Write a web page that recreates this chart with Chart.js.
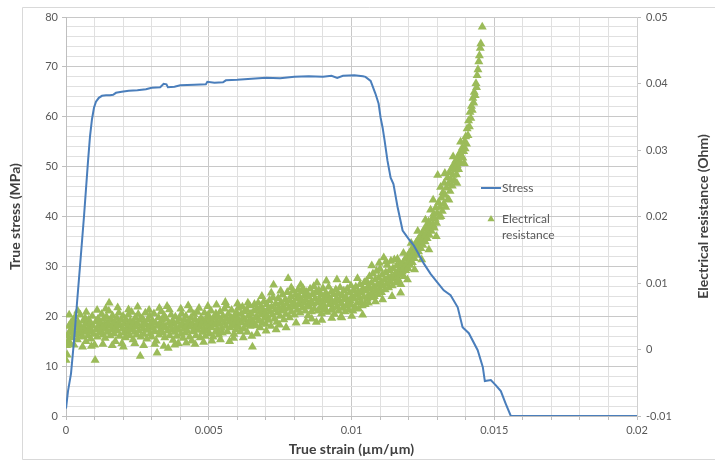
<!DOCTYPE html>
<html>
<head>
<meta charset="utf-8">
<script src="https://cdn.jsdelivr.net/npm/chart.js@4.4.1/dist/chart.umd.min.js"></script>
<style>
  html, body { margin: 0; padding: 0; background: #ffffff; }
  #wrap { width: 715px; height: 460px; position: relative; }
</style>
</head>
<body>
<div id="wrap"><canvas id="c" width="715" height="460"></canvas></div>
<script>
// ---------------- DATA ----------------
const xTitle = 'True strain (µm/µm)';
const yTitle = 'True stress (MPa)';
const y2Title = 'Electrical resistance (Ohm)';
const seriesNames = ['Stress', 'Electrical resistance'];

const xTickLabels = ['0', '0.005', '0.01', '0.015', '0.02'];
const yTickLabels = ['0', '10', '20', '30', '40', '50', '60', '70', '80'];
const y2TickLabels = ['-0.01', '0', '0.01', '0.02', '0.03', '0.04', '0.05'];

const stressStrain = [0, 0.00007, 0.000175, 0.00028, 0.00039, 0.00049, 0.00063, 0.00077, 0.00084, 0.00091,
  0.00098, 0.00105, 0.00115, 0.00126, 0.0014, 0.00154, 0.00165, 0.00175, 0.00195, 0.0022,
  0.0025, 0.0028, 0.003, 0.0033, 0.00342, 0.00352, 0.00357, 0.0038, 0.004, 0.0045,
  0.0049, 0.00495, 0.0052, 0.0055, 0.0056, 0.006, 0.0065, 0.007, 0.0075, 0.008,
  0.0085, 0.009, 0.0093, 0.0095, 0.0097, 0.0101, 0.0104, 0.01049, 0.01067, 0.01084,
  0.01095, 0.01102, 0.01109, 0.01116, 0.01126, 0.01137, 0.01147, 0.01161, 0.01179, 0.012,
  0.01218, 0.01235, 0.01253, 0.01277, 0.01295, 0.01323, 0.01347, 0.01372, 0.01389, 0.01411,
  0.01442, 0.0146, 0.01467, 0.01488, 0.01505, 0.01523, 0.0154, 0.01558, 0.02];
const stressValues = [1.5, 5, 8.5, 15, 23, 30, 40, 51, 56, 59.5,
  61.8, 63, 63.8, 64.2, 64.3, 64.3, 64.4, 64.8, 65, 65.2,
  65.3, 65.5, 65.8, 65.9, 66.6, 66.5, 65.9, 66, 66.3, 66.4,
  66.5, 67, 66.8, 66.9, 67.3, 67.4, 67.6, 67.8, 67.7, 68,
  68.1, 68, 68.2, 67.8, 68.2, 68.3, 68.1, 68.0, 67.2, 64.6,
  62.6, 59.8, 57.8, 55.2, 51.2, 47.8, 46.5, 42, 37.2, 35.5,
  34.2, 32.5, 30.6, 28.5, 27.2, 25.2, 24.2, 21.8, 17.8, 16.6,
  13.2, 9.8, 7, 7.2, 6.2, 5, 2.5, 0, 0];

// [true strain, electrical resistance (Ohm)] – main cloud
const resistancePoints = [
[0.00000,-0.0016],[0.00002,0.0006],[0.00004,-0.0008],[0.00006,0.0021],[0.00008,0.0013],[0.0001,0.0035],[0.00013,0.0027],[0.00015,0.0009],[0.00017,0.0040],[0.0002,0.0031],[0.00022,0.0018],[0.00025,0.0044],[0.00027,0.0025],[0.0003,0.0037],[0.00032,0.0049],[0.00035,0.0022],[0.00037,0.0033],[0.0004,0.0015],[0.00042,0.0041],[0.00045,0.0028],[0.00047,0.0036],[0.0005,0.0052],[0.00052,0.0024],[0.00055,0.0031],[0.00057,0.0019],[0.0006,0.0043],[0.00062,0.0034],[0.00065,0.0026],[0.00067,0.0047],[0.0007,0.0012],[0.00072,0.0038],[0.00075,0.0029],[0.00077,0.0021],[0.0008,0.0045],[0.00082,0.0033],[0.00085,0.0040],[0.00087,0.0016],[0.0009,0.0027],[0.00092,0.0050],[0.00095,0.0035],[0.00097,0.0023],[0.001,0.0007],[0.00102,-0.0016],[0.00105,0.0042],[0.00107,0.0030],[0.0011,0.0019],[0.00112,0.0046],[0.00115,0.0036],[0.00117,0.0025],
[0.0012,0.0041],[0.00122,0.0029],[0.00125,0.0053],[0.00127,0.0034],[0.0013,0.0022],[0.00132,0.0046],[0.00135,0.0038],[0.00137,0.0017],[0.0014,0.0031],[0.00142,0.0049],[0.00145,0.0026],[0.00147,0.0040],[0.0015,0.0058],[0.00151,0.0070],[0.00153,0.0035],[0.00155,0.0021],[0.00158,0.0044],[0.0016,0.0030],[0.00163,0.0051],[0.00165,0.0037],[0.00168,0.0024],[0.0017,0.0042],[0.00173,0.0012],[0.00175,0.0033],[0.00178,0.0047],[0.0018,0.0028],[0.00183,0.0039],[0.00185,0.0055],[0.00188,0.0020],[0.0019,0.0036],[0.00193,0.0044],[0.00196,0.0009],[0.00198,0.0031],[0.002,0.0050],[0.00203,0.0025],[0.00205,0.0039],[0.00208,0.0018],[0.0021,0.0045],[0.00213,0.0033],[0.00215,0.0027],[0.00218,0.0052],[0.0022,0.0038],[0.00223,0.0021],[0.00225,0.0043],[0.00228,0.0030],[0.0023,0.0056],[0.00233,0.0036],[0.00235,0.0015],[0.00238,0.0041],[0.0024,0.0026],[0.00243,0.0048],[0.00245,0.0034],[0.00248,0.0022],[0.0025,0.0039],[0.00253,0.0053],[0.00255,0.0028],[0.00258,0.0044],[0.0026,-0.0010],[0.00262,0.0019],[0.00265,0.0035],[0.00267,0.0047],[0.0027,0.0031],[0.00273,0.0023],[0.00275,0.0041],[0.00278,0.0055],[0.0028,0.0037],[0.00283,0.0016],[0.00285,0.0029],[0.00288,0.0045],[0.0029,0.0033],[0.00293,0.0050],[0.00295,0.0024],[0.00298,0.0038],[0.003,0.0019],[0.00303,0.0043],[0.00305,0.0032],[0.00308,0.0054],[0.0031,0.0027],[0.00313,0.0040],[0.00316,0.0013],[0.00319,-0.0005],[0.00321,0.0035],[0.00324,0.0048],[0.00326,0.0022],[0.00329,0.0039],[0.00331,0.0030],[0.00334,0.0057],[0.00336,0.0044],[0.00339,0.0025],[0.00341,0.0036],[0.00344,0.0051],[0.00346,0.0018],[0.00349,0.0033],[0.00351,0.0046],[0.00354,0.0065],[0.00356,0.0028],[0.00358,0.0002],[0.0036,0.0040],[0.00363,0.0021],[0.00365,0.0035],[0.00368,0.0052],[0.0037,0.0030],[0.00373,0.0043],[0.00375,0.0014],[0.00378,0.0038],[0.0038,0.0026],[0.00383,0.0049],[0.00385,0.0033],[0.00388,0.0020],[0.0039,0.0041],[0.00393,0.0009],[0.00395,0.0029],[0.00398,0.0046],[0.004,0.0035],[0.00403,0.0023],[0.00405,0.0054],[0.00408,0.0039],[0.0041,0.0017],[0.00413,0.0031],[0.00415,0.0044],[0.00418,0.0025],[0.0042,0.0050],[0.00423,0.0036],[0.00425,0.0028],[0.00428,0.0066],[0.0043,0.0042],[0.00433,0.0019],[0.00435,0.0034],[0.00438,0.0048],[0.0044,0.0013],[0.00443,0.0039],[0.00445,0.0027],[0.00448,0.0053],[0.0045,0.0032],[0.00453,0.0045],[0.00455,0.0021],[0.00458,0.0037],[0.0046,0.0056],[0.00463,0.0029],[0.00465,0.0042],[0.00468,0.0034],[0.0047,0.0018],[0.00473,0.0047],[0.00475,0.0038],[0.00478,0.0026],
[0.0048,0.0043],[0.00483,0.0031],[0.00485,0.0055],[0.00488,0.0020],[0.0049,0.0039],[0.00493,0.0047],[0.00495,0.0028],[0.00498,0.0052],[0.005,0.0036],[0.00503,0.0024],[0.00505,0.0044],[0.00508,0.0058],[0.0051,0.0033],[0.00513,0.0041],[0.00515,0.0019],[0.00518,0.0048],[0.0052,0.0037],[0.00523,0.0026],[0.00525,0.0054],[0.00528,0.0042],[0.0053,0.0030],[0.00533,0.0049],[0.00535,0.0022],[0.00538,0.0038],[0.0054,0.0057],[0.00543,0.0045],[0.00545,0.0032],[0.00548,0.0025],[0.0055,0.0050],[0.00553,0.0040],[0.00555,0.0061],[0.00558,0.0071],[0.0056,0.0035],[0.00563,0.0046],[0.00565,0.0027],[0.00568,0.0053],[0.0057,0.0041],[0.00573,0.0012],[0.00575,0.0033],[0.00578,0.0048],[0.0058,0.0059],[0.00583,0.0036],[0.00585,0.0044],[0.00588,0.0023],[0.0059,0.0051],[0.00593,0.0039],[0.00595,0.0030],[0.00598,0.0055],[0.006,0.0046],[0.00603,0.0062],[0.00605,0.0034],[0.00608,0.0042],[0.0061,0.0027],[0.00613,0.0053],[0.00615,0.0040],[0.00618,0.0064],[0.0062,0.0048],[0.00623,0.0031],[0.00625,0.0057],[0.00628,0.0044],[0.0063,0.0037],[0.00633,0.0060],[0.00635,0.0026],[0.00638,0.0050],[0.0064,0.0041],[0.00643,0.0066],[0.00645,0.0035],[0.00648,0.0054],[0.0065,0.0045],[0.00653,0.0004],[0.00655,0.0039],[0.00658,0.0058],[0.0066,0.0068],[0.00663,0.0047],
[0.00665,0.0036],[0.00668,0.0061],[0.0067,0.0049],[0.00673,0.0070],[0.00675,0.0043],[0.00678,0.0056],[0.0068,0.0033],[0.00683,0.0065],[0.00685,0.0052],[0.00688,0.0040],[0.0069,0.0059],[0.00693,0.0072],[0.00695,0.0047],[0.00698,0.0055],[0.007,0.0038],[0.00703,0.0068],[0.00705,0.0050],[0.00708,0.0061],[0.0071,0.0044],[0.00713,0.0074],[0.00715,0.0057],[0.00718,0.0035],[0.0072,0.0064],[0.00723,0.0052],[0.00725,0.0078],[0.00727,0.0097],[0.0073,0.0046],[0.00733,0.0060],[0.00735,0.0069],[0.00738,0.0041],[0.0074,0.0055],[0.00743,0.0077],[0.00745,0.0063],[0.00748,0.0037],[0.0075,0.0050],[0.00753,0.0071],[0.00755,0.0058],[0.00758,0.0082],[0.0076,0.0066],[0.00763,0.0045],[0.00765,0.0061],[0.00768,0.0075],[0.0077,0.0053],[0.00773,0.0069],[0.00775,0.0086],[0.00778,0.0107],[0.0078,0.0062],[0.00783,0.0048],[0.00785,0.0073],[0.00788,0.0080],[0.0079,0.0057],[0.00793,0.0067],[0.00795,0.0088],[0.00798,0.0071],[0.008,0.0052],[0.00803,0.0064],[0.00805,0.0083],[0.00808,0.0076],[0.0081,0.0059],[0.00813,0.0090],[0.00815,0.0068],[0.00818,0.0079],[0.0082,0.0055],[0.00823,0.0073],[0.00825,0.0087],[0.00828,0.0063],[0.0083,0.0092],[0.00833,0.0070],[0.00835,0.0081],[0.00838,0.0058],[0.0084,0.0075],[0.00843,0.0086],[0.00845,0.0066],[0.00848,0.0051],
[0.0085,0.0079],[0.00853,0.0064],[0.00855,0.0091],[0.00858,0.0072],[0.0086,0.0057],[0.00863,0.0083],[0.00865,0.0069],[0.00868,0.0095],[0.0087,0.0061],[0.00873,0.0077],[0.00875,0.0086],[0.00877,0.0041],[0.0088,0.0070],[0.00883,0.0058],[0.00885,0.0089],[0.00888,0.0075],[0.0089,0.0063],[0.00893,0.0082],[0.00895,0.0054],[0.00898,0.0071],[0.009,0.0092],[0.00903,0.0066],[0.00905,0.0078],[0.00908,0.0060],[0.0091,0.0085],[0.00913,0.0073],[0.00915,0.0056],[0.00918,0.0080],[0.0092,0.0094],[0.00923,0.0068],[0.00925,0.0076],[0.00928,0.0059],[0.0093,0.0087],[0.00933,0.0072],[0.00935,0.0062],[0.00938,0.0083],[0.0094,0.0053],[0.00943,0.0070],[0.00945,0.0090],[0.00948,0.0077],[0.0095,0.0065],[0.00953,0.0084],[0.00955,0.0058],[0.00958,0.0074],[0.0096,0.0093],[0.00963,0.0049],[0.00965,0.0069],[0.00968,0.0081],[0.0097,0.0062],[0.00973,0.0088],[0.00975,0.0075],[0.00978,0.0057],[0.0098,0.0079],[0.00983,0.0066],[0.00985,0.0091],[0.00988,0.0071],[0.0099,0.0060],[0.00993,0.0085],[0.00995,0.0074],[0.00998,0.0096],[0.01,0.0067],[0.01003,0.0080],[0.01005,0.0058],[0.01008,0.0089],[0.0101,0.0076],[0.01013,0.0063],[0.01015,0.0094],[0.01018,0.0082],[0.0102,0.0070],[0.01023,0.0087],[0.01025,0.0061],[0.01028,0.0078],[0.0103,0.0098],[0.01033,0.0072],[0.01035,0.0085],[0.01038,0.0066],[0.0104,0.0092],[0.01043,0.0079],[0.01045,0.0101],[0.01048,0.0068],
[0.0105,0.0088],[0.01053,0.0103],[0.01055,0.0076],[0.01058,0.0095],[0.0106,0.0082],[0.01063,0.0110],[0.01065,0.0091],[0.01068,0.0078],[0.0107,0.0100],[0.01073,0.0086],[0.01075,0.0114],[0.01078,0.0094],[0.0108,0.0080],[0.01083,0.0105],[0.01085,0.0089],[0.01088,0.0118],[0.0109,0.0097],[0.01093,0.0083],[0.01095,0.0108],[0.01098,0.0092],[0.011,0.0121],[0.01103,0.0101],[0.01105,0.0086],[0.01108,0.0112],[0.0111,0.0096],[0.01113,0.0138],[0.01115,0.0105],[0.01118,0.0090],[0.0112,0.0116],[0.01123,0.0099],[0.01125,0.0127],[0.01128,0.0108],[0.0113,0.0093],[0.01133,0.0119],[0.01135,0.0102],[0.01138,0.0133],[0.0114,0.0110],[0.01143,0.0096],[0.01145,0.0122],[0.01148,0.0106],[0.0115,0.0135],[0.01153,0.0114],[0.01155,0.0100],[0.01158,0.0126],[0.0116,0.0109],[0.01163,0.0118],[0.01165,0.0104],[0.01168,0.0129],[0.0117,0.0113],[0.01173,0.0098],[0.01175,0.0121],
[0.01178,0.0117],[0.0118,0.0130],[0.01183,0.0110],[0.01185,0.0124],[0.01188,0.0136],[0.0119,0.0119],[0.01193,0.0128],[0.01195,0.0140],[0.01198,0.0122],[0.012,0.0133],[0.01203,0.0145],[0.01205,0.0127],[0.01208,0.0138],[0.0121,0.0150],[0.01213,0.0131],[0.01215,0.0143],[0.01218,0.0155],[0.0122,0.0137],[0.01223,0.0148],[0.01225,0.0160],[0.01228,0.0142],[0.0123,0.0153],[0.01233,0.0165],[0.01235,0.0147],[0.01238,0.0158],[0.0124,0.0170],[0.01243,0.0152],[0.01245,0.0163],[0.01248,0.0175],[0.0125,0.0157],[0.01253,0.0168],[0.01255,0.0181],[0.01258,0.0162],[0.0126,0.0173],[0.01263,0.0186],[0.01265,0.0167],[0.01268,0.0179],[0.0127,0.0192],[0.01273,0.0172],[0.01275,0.0185],[0.01277,0.0210],[0.0128,0.0178],[0.01283,0.0197],[0.01285,0.0188],[0.01288,0.0204],[0.0129,0.0183],[0.01293,0.0196],[0.01295,0.0213],[0.01298,0.0190],[0.013,0.0205],[0.01302,0.0262],[0.01305,0.0221],[0.01308,0.0199],[0.0131,0.0214],[0.01312,0.0244],[0.01315,0.0228],[0.01318,0.0208],[0.0132,0.0236],[0.01323,0.0219],[0.01325,0.0250],[0.01328,0.0232],[0.0133,0.0214],[0.01333,0.0243],[0.01336,0.0258],[0.01338,0.0226],[0.0134,0.0249],[0.01343,0.0266],[0.01345,0.0238],[0.01348,0.0255],[0.0135,0.0272],[0.01353,0.0246],[0.01355,0.0262],[0.01358,0.0278],[0.0136,0.0254],[0.01363,0.0270],[0.01365,0.0284],[0.01368,0.0263],[0.0137,0.0277],[0.01373,0.0290],[0.01375,0.0271],[0.01378,0.0283],[0.0138,0.0296],[0.01383,0.0280],[0.01385,0.0291],[0.01388,0.0303],[0.0139,0.0288],[0.01393,0.0298],[0.01396,0.0312],[0.01398,0.0302],[0.014,0.0320],[0.01403,0.0309],[0.01405,0.0332],[0.01408,0.0322],[0.0141,0.0344],[0.01413,0.0335],[0.01415,0.0357],[0.01418,0.0348],[0.0142,0.0366],[0.01423,0.0360],[0.01425,0.0378],[0.01428,0.0371],[0.0143,0.0387],[0.01433,0.0382],[0.01436,0.0400],[0.01438,0.0394],[0.0144,0.0412],[0.01443,0.0421],[0.01446,0.0433],[0.01448,0.0442],[0.01451,0.0453],[0.01453,0.0460],[0.01458,0.0485]
];

// [true strain, electrical resistance (Ohm)] – points at the upper/lower edges of the cloud
const resistanceEdgePoints = [
[0.00011,0.0052],[0.00028,0.0007],[0.00041,0.0058],[0.00058,0.0004],[0.00071,0.0056],[0.00089,0.0005],[0.00109,0.0059],[0.00129,0.0008],[0.00139,0.0061],[0.00162,0.0006],[0.00181,0.0063],[0.00201,0.0004],[0.00219,0.0060],[0.00241,0.0009],[0.00251,0.0064],[0.00272,0.0006],[0.00291,0.0059],[0.00311,0.0008],[0.00327,0.0062],[0.00343,0.0005],[0.00362,0.0060],[0.00381,0.0007],[0.00402,0.0061],[0.00421,0.0010],[0.00436,0.0059],[0.00452,0.0008],[0.00466,0.0062],[0.00482,0.0011],
[0.00497,0.0065],[0.00511,0.0013],[0.00527,0.0067],[0.00541,0.0015],[0.00562,0.0066],[0.00587,0.0017],[0.00601,0.0069],[0.00621,0.0018],[0.00637,0.0070],[0.00651,0.0020],
[0.00669,0.0024],[0.00686,0.0080],[0.00701,0.0028],[0.00719,0.0085],[0.00736,0.0030],[0.00752,0.0088],[0.00771,0.0033],[0.00789,0.0093],[0.00806,0.0040],[0.00822,0.0097],[0.00841,0.0042],
[0.00861,0.0046],[0.00879,0.0100],[0.00896,0.0044],[0.00912,0.0103],[0.00931,0.0047],[0.00949,0.0105],[0.00966,0.0048],[0.00982,0.0104],[0.01001,0.0050],[0.01021,0.0107],[0.01039,0.0052],
[0.01059,0.0070],[0.01071,0.0126],[0.01084,0.0072],[0.01097,0.0130],[0.01109,0.0075],[0.01121,0.0132],[0.01142,0.0080],[0.01161,0.0136],[0.01172,0.0085],
[0.01182,0.0145],[0.01196,0.0105],[0.01209,0.0160],[0.01221,0.0120],[0.01232,0.0178],[0.01246,0.0135],[0.01259,0.0195],[0.01271,0.0150],[0.01286,0.0225],[0.01297,0.0170],[0.01313,0.0200],[0.01327,0.0265],[0.01341,0.0225],[0.01356,0.0290],[0.01369,0.0250],[0.01382,0.0312],[0.01395,0.0280]
];

// ---------------- STYLE ----------------
const STRESS_COLOR = '#4a7ebb';
const RES_COLOR = '#9bbb59';
const TICK_COLOR = '#595959';
const TITLE_COLOR = '#404040';
const GRID_MINOR = '#e0e0e0';
const GRID_MAJOR = '#c8c8c8';
const FONT = 'Lato, "Open Sans", "Liberation Sans", sans-serif';

const near = (v, step) => Math.abs(v / step - Math.round(v / step)) < 1e-6;

const stressData = stressStrain.map((x, i) => ({ x: x, y: stressValues[i] }));
const resData = resistancePoints.concat(resistanceEdgePoints).map(p => ({ x: p[0], y: p[1] }));

const decorPlugin = {
  id: 'decor',
  beforeDraw(chart) {
    const ctx = chart.ctx;
    ctx.save();
    ctx.fillStyle = '#ffffff';
    ctx.fillRect(0, 0, chart.width, chart.height);
    ctx.restore();
  },
  afterDraw(chart) {
    const ctx = chart.ctx;
    ctx.save();
    // outer chart frame
    ctx.strokeStyle = '#d9d9d9';
    ctx.lineWidth = 1;
    ctx.beginPath();
    ctx.moveTo(716, 7.5); ctx.lineTo(22.5, 7.5); ctx.lineTo(22.5, 459.5); ctx.lineTo(716, 459.5);
    ctx.stroke();

    // right axis title (reads bottom-to-top)
    ctx.fillStyle = TITLE_COLOR;
    ctx.font = 'bold 14px ' + FONT;
    ctx.textAlign = 'center';
    ctx.textBaseline = 'middle';
    ctx.translate(703, (chart.chartArea.top + chart.chartArea.bottom) / 2);
    ctx.rotate(-Math.PI / 2);
    ctx.fillText(y2Title, 0, 0);
    ctx.restore();

    // legend
    ctx.save();
    ctx.font = '12px ' + FONT;
    ctx.textAlign = 'left';
    ctx.textBaseline = 'middle';
    ctx.strokeStyle = STRESS_COLOR;
    ctx.lineWidth = 2;
    ctx.beginPath(); ctx.moveTo(481, 188); ctx.lineTo(501, 188); ctx.stroke();
    ctx.fillStyle = TICK_COLOR;
    ctx.fillText(seriesNames[0], 502, 188);
    ctx.fillStyle = RES_COLOR;
    ctx.beginPath();
    ctx.moveTo(491, 215); ctx.lineTo(494.6, 221.3); ctx.lineTo(487.4, 221.3); ctx.closePath();
    ctx.fill();
    ctx.fillStyle = TICK_COLOR;
    const parts = seriesNames[1].split(' ');
    ctx.fillText(parts[0], 502, 219);
    ctx.fillText(parts[1], 502, 235);
    ctx.restore();
  }
};

Chart.defaults.font.family = FONT;
Chart.defaults.color = TICK_COLOR;

new Chart(document.getElementById('c'), {
  type: 'scatter',
  data: {
    datasets: [
      {
        label: seriesNames[0],
        data: stressData,
        showLine: true,
        borderColor: STRESS_COLOR,
        backgroundColor: STRESS_COLOR,
        borderWidth: 2,
        pointRadius: 0,
        tension: 0,
        yAxisID: 'y',
        order: 0
      },
      {
        label: seriesNames[1],
        data: resData,
        showLine: false,
        pointStyle: 'triangle',
        pointRadius: 5.2,
        pointBorderWidth: 0,
        borderWidth: 0,
        backgroundColor: RES_COLOR,
        borderColor: RES_COLOR,
        yAxisID: 'y1',
        order: 1
      }
    ]
  },
  options: {
    responsive: false,
    animation: false,
    devicePixelRatio: 1,
    layout: { padding: { top: 17, left: 0, right: 0, bottom: 0 } },
    plugins: {
      legend: { display: false },
      tooltip: { enabled: false }
    },
    scales: {
      x: {
        type: 'linear',
        min: 0, max: 0.02,
        afterFit(s) { s.height = 44; },
        ticks: {
          stepSize: 0.001, autoSkip: false, maxRotation: 0, padding: 4,
          color: TICK_COLOR, font: { size: 11 },
          callback: v => near(v, 0.005) ? xTickLabels[Math.round(v / 0.005)] : ''
        },
        grid: {
          color: c => (c.tick && near(c.tick.value, 0.005)) ? GRID_MAJOR : GRID_MINOR,
          tickLength: 4,
          tickColor: '#bfbfbf'
        },
        border: { color: '#bfbfbf' },
        title: {
          display: true, text: xTitle, color: TITLE_COLOR,
          font: { size: 14, weight: 'bold' }, padding: { top: 2, bottom: 2 }
        }
      },
      y: {
        type: 'linear', position: 'left',
        min: 0, max: 80,
        afterFit(s) { s.width = 66; },
        ticks: {
          stepSize: 2, autoSkip: false, padding: 4,
          color: TICK_COLOR, font: { size: 11 },
          callback: v => near(v, 10) ? yTickLabels[Math.round(v / 10)] : ''
        },
        grid: {
          color: c => (c.tick && near(c.tick.value, 10)) ? GRID_MAJOR : GRID_MINOR,
          tickLength: 4,
          tickColor: c => (c.tick && near(c.tick.value, 10)) ? '#bfbfbf' : 'rgba(0,0,0,0)'
        },
        border: { color: '#bfbfbf' },
        title: {
          display: true, text: yTitle, color: TITLE_COLOR,
          font: { size: 14, weight: 'bold' }, padding: { top: 7, bottom: 0 }
        }
      },
      y1: {
        type: 'linear', position: 'right',
        min: -0.01, max: 0.05,
        afterFit(s) { s.width = 78; },
        ticks: {
          stepSize: 0.01, autoSkip: false, padding: 5,
          color: TICK_COLOR, font: { size: 11 },
          callback: v => y2TickLabels[Math.round((v + 0.01) / 0.01)]
        },
        grid: { drawOnChartArea: false, tickLength: 4, tickColor: '#bfbfbf' },
        border: { color: '#d0d0d0' }
      }
    }
  },
  plugins: [decorPlugin]
});
</script>
</body>
</html>
